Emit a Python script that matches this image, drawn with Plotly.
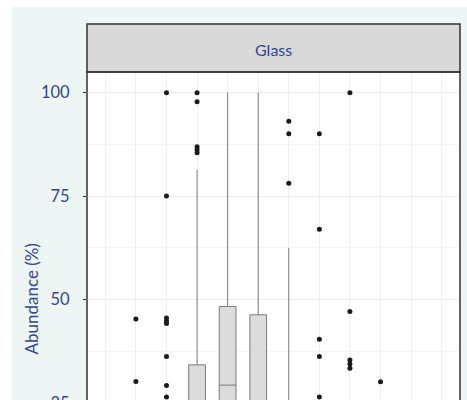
import plotly.graph_objects as go

# Sample groups along the x axis
categories = ["S01", "S02", "S03", "S04", "S05", "S06",
              "S07", "S08", "S09", "S10", "S11", "S12"]

# Box statistics (abundance, %) per group
q1_vals = [0, 0, 0, 2.8, 8, 5, 0, 0, 0, 0, 0, 0]
median_vals = [0, 2, 3, 14, 29.3, 20, 6, 3, 5, 2, 0, 0]
q3_vals = [4, 8, 9, 34.2, 48.3, 46.3, 25.2, 10, 10, 6, 2, 1]
lower_vals = [0, 0, 0, 0, 0, 0, 0, 0, 0, 0, 0, 0]
upper_vals = [10, 18, 20, 81.3, 100, 100, 62.4, 20, 20, 15, 5, 3]

# Outlying observations
outlier_cat = (["S02"] * 2 + ["S03"] * 8 + ["S04"] * 5 + ["S07"] * 3
               + ["S08"] * 5 + ["S09"] * 5 + ["S10"])
outlier_val = [45.3, 30.2,
               100, 75, 45.5, 44.8, 44.2, 36.2, 29.2, 26.4,
               100, 97.8, 86.9, 86.2, 85.5,
               93.1, 90.1, 78.1,
               90.1, 67.0, 40.4, 36.2, 26.4,
               100, 47.1, 35.4, 34.4, 33.4,
               30.1]

y_ticks = [0, 25, 50, 75, 100]
facet_label = "Glass"
y_title = "Abundance (%)"

BLUE = "#34468f"
BG = "#eef6f5"
FRAME = "#333333"

W, H = 467, 600
ML, MR, MT, MB = 87, 7, 72, 73
plot_h = H - MT - MB
plot_w = W - ML - MR

fig = go.Figure()

fig.add_trace(go.Box(
    x=categories,
    q1=q1_vals, median=median_vals, q3=q3_vals,
    lowerfence=lower_vals, upperfence=upper_vals,
    boxpoints=False,
    fillcolor="#dcdcdc",
    line=dict(color="#7a7a7a", width=1),
    whiskerwidth=0,
    showlegend=False,
))

fig.add_trace(go.Scatter(
    x=outlier_cat, y=outlier_val, mode="markers",
    marker=dict(color="#1a1a1a", size=5),
    showlegend=False, cliponaxis=False,
))

def px_to_paper_y(py):
    return (H - MB - py) / plot_h

def px_to_paper_x(px):
    return (px - ML) / plot_w

shapes = [
    # white margins at the top and left edge
    dict(type="rect", xref="paper", yref="paper",
         x0=px_to_paper_x(0), x1=px_to_paper_x(W),
         y0=px_to_paper_y(7), y1=px_to_paper_y(0),
         fillcolor="white", line=dict(width=0), layer="below"),
    dict(type="rect", xref="paper", yref="paper",
         x0=px_to_paper_x(0), x1=px_to_paper_x(12),
         y0=px_to_paper_y(H), y1=px_to_paper_y(0),
         fillcolor="white", line=dict(width=0), layer="below"),
    # facet strip
    dict(type="rect", xref="paper", yref="paper",
         x0=0, x1=1, y0=1, y1=px_to_paper_y(24),
         fillcolor="#d9d9d9", line=dict(color=FRAME, width=1.5)),
    # panel frame
    dict(type="rect", xref="paper", yref="paper",
         x0=0, x1=1, y0=0, y1=1,
         fillcolor="rgba(0,0,0,0)", line=dict(color=FRAME, width=1.5)),
]

annotations = [
    dict(text=facet_label, xref="paper", yref="paper",
         x=0.5, y=px_to_paper_y(49.5), showarrow=False,
         xanchor="center", yanchor="middle",
         font=dict(family="Lato", size=16, color=BLUE)),
    dict(text=y_title, xref="paper", yref="paper",
         x=px_to_paper_x(31), y=0.5, textangle=-90, showarrow=False,
         xanchor="center", yanchor="middle",
         font=dict(family="Lato", size=17, color=BLUE)),
]

fig.update_layout(
    width=W, height=H,
    margin=dict(l=ML, r=MR, t=MT, b=MB, pad=0),
    paper_bgcolor=BG, plot_bgcolor="white",
    boxgap=0.22,
    shapes=shapes, annotations=annotations,
    font=dict(family="Lato", color=BLUE),
)

fig.update_xaxes(
    type="category", range=[-0.6, len(categories) - 0.4],
    showgrid=True, gridcolor="#efefef", gridwidth=1,
    zeroline=False, showline=False,
    ticks="outside", ticklen=3, tickcolor=FRAME,
    tickfont=dict(family="Lato", size=14, color=BLUE),
)

fig.update_yaxes(
    range=[-5, 105], tickvals=y_ticks,
    showgrid=True, gridcolor="#ececec", gridwidth=1,
    minor=dict(showgrid=True, gridcolor="#f5f5f5", dtick=12.5, tick0=12.5),
    zeroline=False, showline=False,
    ticks="outside", ticklen=3, tickcolor=FRAME,
    ticklabelstandoff=10,
    tickfont=dict(family="Lato", size=16.5, color=BLUE),
)

fig.write_html("out.html",
               post_script="document.body.style.overflow='hidden';document.body.style.margin='0';")
